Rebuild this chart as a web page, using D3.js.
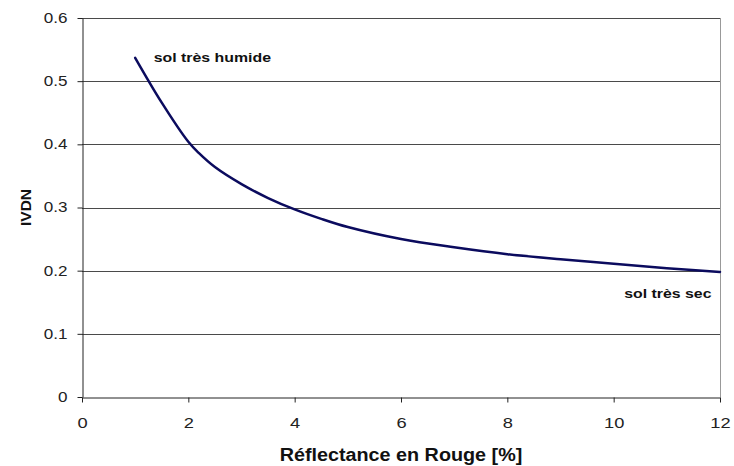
<!DOCTYPE html>
<html>
<head>
<meta charset="utf-8">
<script src="https://cdnjs.cloudflare.com/ajax/libs/d3/7.8.5/d3.min.js"></script>
<style>
  body { margin: 0; background: #fff; }
  svg { display: block; font-family: "Liberation Sans", Arial, sans-serif; }
</style>
</head>
<body>
<svg id="chart"></svg>
<script>
// values
const reflectance = [1, 1.5, 2, 2.2, 2.5, 3, 3.5, 4, 4.5, 5, 6, 7, 8, 9, 10, 11, 12];
const ivdn = [0.537, 0.466, 0.404, 0.386, 0.364, 0.337, 0.315, 0.297, 0.282, 0.269, 0.250, 0.237, 0.226, 0.218, 0.211, 0.204, 0.198];
const xTicks = [0, 2, 4, 6, 8, 10, 12];
const yTicks = [0, 0.1, 0.2, 0.3, 0.4, 0.5, 0.6];
const notes = [
    { text: "sol très humide", x: 1.35, y: 0.531, anchor: "start" },
    { text: "sol très sec", x: 11.84, y: 0.157, anchor: "end" }
];

const W = 734, H = 466;
const margin = { top: 18, right: 14, bottom: 69, left: 82 };
const width = W - margin.left - margin.right;
const height = H - margin.top - margin.bottom;

// the source picture is a bit wider than tall, so text is stretched sideways
function stretch(sel, sx, origin) {
    sel.style("transform-box", "fill-box")
        .style("transform-origin", origin)
        .style("transform", `scaleX(${sx})`);
}

const svg = d3.select("#chart")
    .attr("width", W)
    .attr("height", H);

const g = svg.append("g")
    .attr("transform", `translate(${margin.left},${margin.top})`);

const x = d3.scaleLinear().domain([0, 12]).range([0, width]);
const y = d3.scaleLinear().domain([0, 0.6]).range([height, 0]);

// gridlines
g.append("g")
    .selectAll("line")
    .data(yTicks.filter(d => d > 0))
    .join("line")
    .attr("x1", 0)
    .attr("x2", width)
    .attr("y1", d => Math.round(y(d)) + 0.5)
    .attr("y2", d => Math.round(y(d)) + 0.5)
    .attr("stroke", "#4a4a4a")
    .attr("stroke-width", 1);

// right border of plot area
g.append("line")
    .attr("x1", Math.round(width) + 0.5)
    .attr("x2", Math.round(width) + 0.5)
    .attr("y1", y(0.6))
    .attr("y2", height)
    .attr("stroke", "#999")
    .attr("stroke-width", 1);

// axes
const xAxis = g.append("g")
    .attr("transform", `translate(0,${Math.round(height) + 0.5})`)
    .call(d3.axisBottom(x).tickValues(xTicks).tickSize(5).tickSizeOuter(0).tickPadding(14));

const yAxis = g.append("g")
    .attr("transform", "translate(0.5,0)")
    .call(d3.axisLeft(y).tickValues(yTicks).tickSize(5).tickSizeOuter(0).tickPadding(10)
        .tickFormat(d => d === 0 ? "0" : d3.format(".1f")(d)));

[xAxis, yAxis].forEach(a => {
    a.select(".domain").attr("stroke", "#222");
    a.selectAll(".tick line").attr("stroke", "#222");
    a.selectAll(".tick text")
        .attr("fill", "#222")
        .style("font-family", "'Liberation Sans', Arial, sans-serif");
});
xAxis.selectAll(".tick text").style("font-size", "15.5px").call(stretch, 1.18, "50% 50%");
yAxis.selectAll(".tick text").style("font-size", "14px").call(stretch, 1.22, "100% 50%");

// curve
const line = d3.line()
    .x((d, i) => x(reflectance[i]))
    .y(d => y(d))
    .curve(d3.curveCatmullRom.alpha(0.5));

g.append("path")
    .datum(ivdn)
    .attr("d", line)
    .attr("fill", "none")
    .attr("stroke", "#0b0b5e")
    .attr("stroke-width", 2.5)
    .attr("stroke-linecap", "round");

// annotations
g.selectAll(".note")
    .data(notes)
    .join("text")
    .attr("class", "note")
    .attr("x", d => x(d.x))
    .attr("y", d => y(d.y))
    .attr("text-anchor", d => d.anchor)
    .style("font-size", "13px")
    .style("font-weight", "bold")
    .attr("fill", "#111")
    .text(d => d.text)
    .each(function(d) {
        d3.select(this).call(stretch, 1.22, d.anchor === "end" ? "100% 50%" : "0% 50%");
    });

// axis titles
svg.append("text")
    .attr("x", margin.left + width / 2)
    .attr("y", 461)
    .attr("text-anchor", "middle")
    .style("font-size", "17.5px")
    .style("font-weight", "bold")
    .attr("fill", "#111")
    .text("Réflectance en Rouge [%]")
    .call(stretch, 1.13, "50% 50%");

svg.append("text")
    .attr("transform", `translate(31,${margin.top + height / 2}) rotate(-90)`)
    .attr("text-anchor", "middle")
    .style("font-size", "15.5px")
    .style("font-weight", "bold")
    .attr("fill", "#111")
    .text("IVDN");
</script>
</body>
</html>
